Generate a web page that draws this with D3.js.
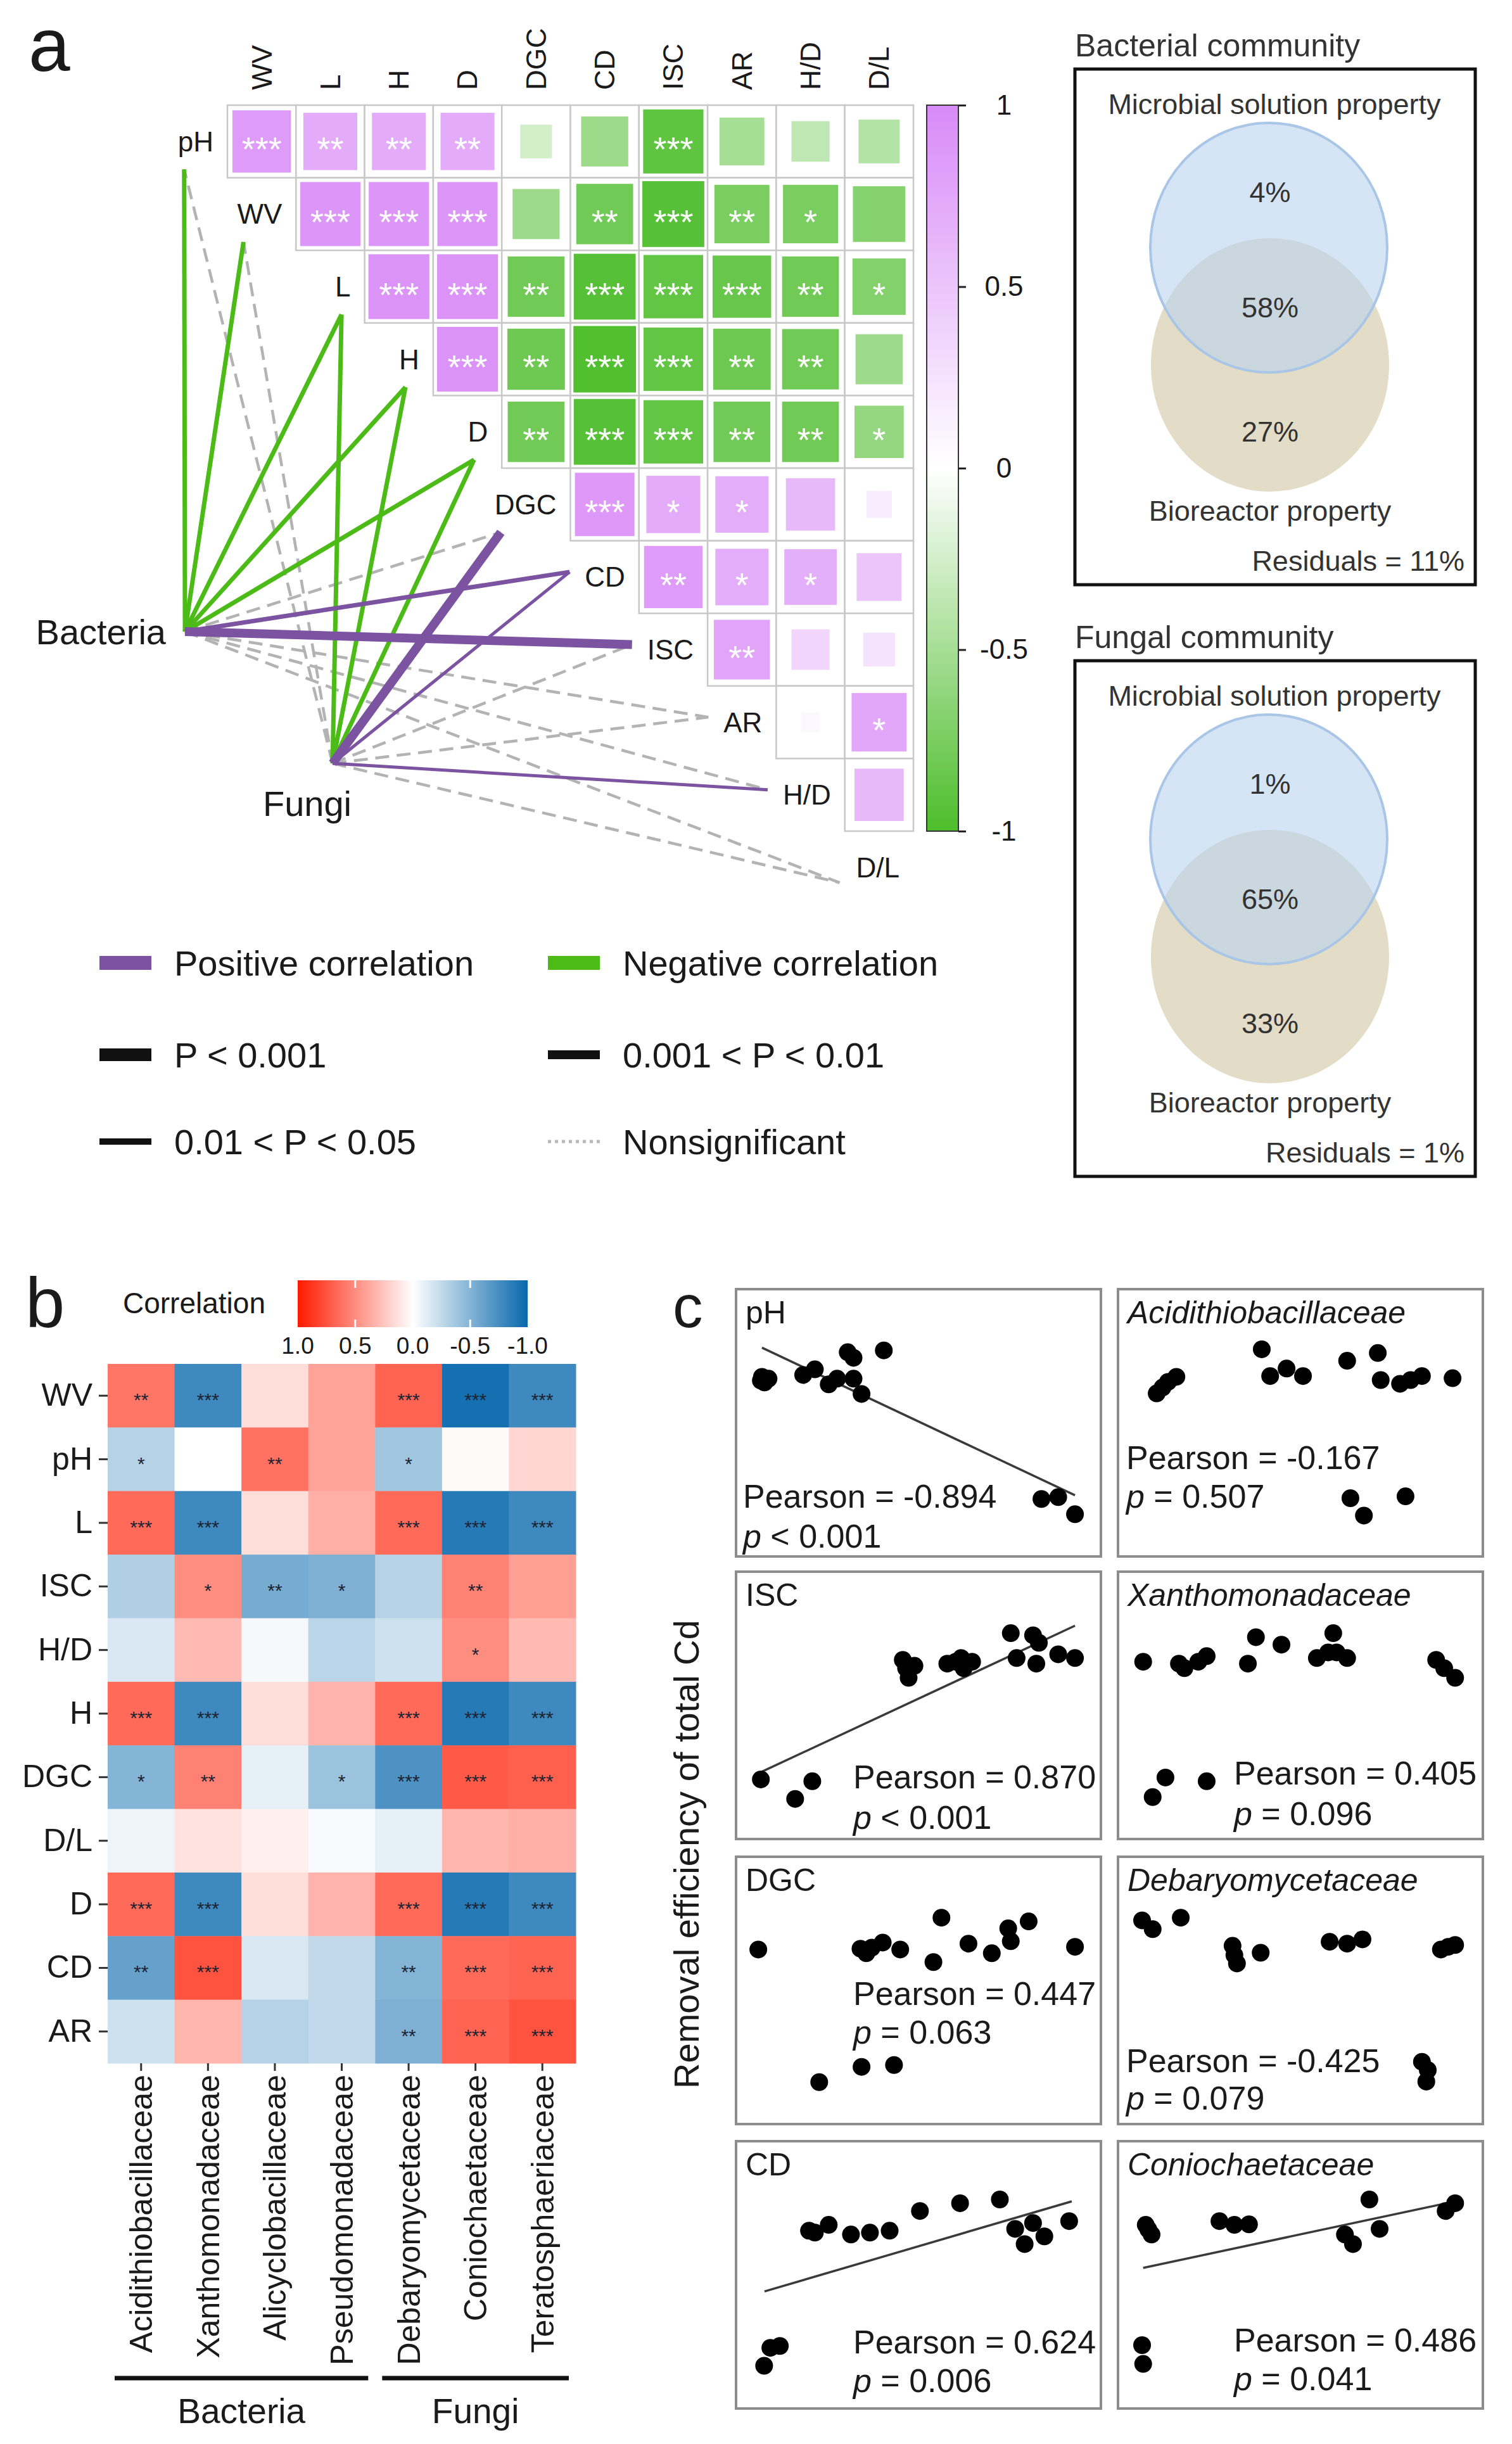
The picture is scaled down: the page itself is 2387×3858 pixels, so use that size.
<!DOCTYPE html>
<html>
<head>
<meta charset="utf-8">
<script src="https://cdn.jsdelivr.net/npm/d3@7"></script>
<style>
  body { margin: 0; background: #fff; }
  svg text { font-family: "Liberation Sans", Arial, sans-serif; fill: #1a1a1a; }
</style>
</head>
<body>
<svg id="fig" width="2387" height="3858"></svg>
<script>
// ---------------- panel a data ----------------
const envVars = ['pH', 'WV', 'L', 'H', 'D', 'DGC', 'CD', 'ISC', 'AR', 'H/D', 'D/L'];
// upper triangle: row k holds r(envVars[k], envVars[j]) for j = k+1..10
const envCorr = [
  [0.85, 0.72, 0.72, 0.72, -0.25, -0.55, -0.9, -0.5, -0.36, -0.42],
  [0.9, 0.9, 0.9, -0.55, -0.8, -0.95, -0.75, -0.75, -0.68],
  [0.92, 0.92, -0.8, -0.95, -0.88, -0.85, -0.8, -0.7],
  [0.92, -0.82, -0.97, -0.88, -0.82, -0.8, -0.55],
  [-0.8, -0.95, -0.88, -0.8, -0.8, -0.6],
  [0.88, 0.72, 0.7, 0.6, 0.16],
  [0.85, 0.7, 0.68, 0.5],
  [0.78, 0.36, 0.25],
  [0.08, 0.75],
  [0.6]
];
const envStars = [
  ['***', '**', '**', '**', '', '', '***', '', '', ''],
  ['***', '***', '***', '', '**', '***', '**', '*', ''],
  ['***', '***', '**', '***', '***', '***', '**', '*'],
  ['***', '**', '***', '***', '**', '**', ''],
  ['**', '***', '***', '**', '**', '*'],
  ['***', '*', '*', '', ''],
  ['**', '*', '*', ''],
  ['**', '', ''],
  ['', '*'],
  ['']
];
const colorTicksA = [1, 0.5, 0, -0.5, -1];

// mantel links, one entry per envVars item
const bacteriaSign = [-1, -1, -1, -1, -1, 1, 1, 1, 1, 1, 1];
const bacteriaP = ['p2', 'p2', 'p2', 'p2', 'p2', 'ns', 'p2', 'p1', 'ns', 'ns', 'ns'];
const fungiSign = [-1, -1, -1, -1, -1, 1, 1, 1, 1, 1, 1];
const fungiP = ['ns', 'ns', 'p2', 'p2', 'p2', 'p1', 'p3', 'ns', 'ns', 'p3', 'ns'];

// variation partitioning
const vennTitles = ['Bacterial community', 'Fungal community'];
const vennSolution = ['4%', '1%'];
const vennShared = ['58%', '65%'];
const vennReactor = ['27%', '33%'];
const vennResiduals = ['11%', '1%'];

// ---------------- panel b data ----------------
const bRows = ['WV', 'pH', 'L', 'ISC', 'H/D', 'H', 'DGC', 'D/L', 'D', 'CD', 'AR'];
const bCols = ['Acidithiobacillaceae', 'Xanthomonadaceae', 'Alicyclobacillaceae', 'Pseudomonadaceae',
               'Debaryomycetaceae', 'Coniochaetaceae', 'Teratosphaeriaceae'];
const bGroups = ['Bacteria', 'Bacteria', 'Bacteria', 'Bacteria', 'Fungi', 'Fungi', 'Fungi'];
const bCorr = [
  [0.6, -0.78, 0.15, 0.4, 0.68, -0.95, -0.78],
  [-0.3, 0.0, 0.62, 0.4, -0.38, 0.02, 0.18],
  [0.65, -0.78, 0.15, 0.35, 0.65, -0.88, -0.78],
  [-0.32, 0.5, -0.55, -0.52, -0.3, 0.55, 0.42],
  [-0.15, 0.3, -0.04, -0.27, -0.2, 0.5, 0.3],
  [0.65, -0.78, 0.15, 0.33, 0.65, -0.88, -0.78],
  [-0.5, 0.55, -0.1, -0.4, -0.72, 0.72, 0.7],
  [-0.07, 0.13, 0.07, -0.03, -0.1, 0.32, 0.35],
  [0.65, -0.78, 0.15, 0.33, 0.65, -0.88, -0.78],
  [-0.62, 0.75, -0.15, -0.25, -0.5, 0.65, 0.68],
  [-0.2, 0.32, -0.3, -0.25, -0.52, 0.68, 0.75]
];
const bStars = [
  ['**', '***', '', '', '***', '***', '***'],
  ['*', '', '**', '', '*', '', ''],
  ['***', '***', '', '', '***', '***', '***'],
  ['', '*', '**', '*', '', '**', ''],
  ['', '', '', '', '', '*', ''],
  ['***', '***', '', '', '***', '***', '***'],
  ['*', '**', '', '*', '***', '***', '***'],
  ['', '', '', '', '', '', ''],
  ['***', '***', '', '', '***', '***', '***'],
  ['**', '***', '', '', '**', '***', '***'],
  ['', '', '', '', '**', '***', '***']
];
const colorTicksB = [1, 0.5, 0, -0.5, -1];
const colorTickLabelsB = ['1.0', '0.5', '0.0', '-0.5', '-1.0'];

// ---------------- panel c data ----------------
const cTitles = ['pH', 'Acidithiobacillaceae', 'ISC', 'Xanthomonadaceae',
                 'DGC', 'Debaryomycetaceae', 'CD', 'Coniochaetaceae'];
const cItalic = [false, true, false, true, false, true, false, true];
const cPearson = ['-0.894', '-0.167', '0.870', '0.405', '0.447', '-0.425', '0.624', '0.486'];
const cPval = ['< 0.001', '= 0.507', '< 0.001', '= 0.096', '= 0.063', '= 0.079', '= 0.006', '= 0.041'];
// scatter values, scaled 0-100 on both axes
const cX = [
  [7.1, 7.8, 8.9, 6.8, 18.4, 21.6, 25.4, 27.7, 30.6, 32.2, 32.2, 34.4, 40.5, 83.7, 88.3, 92.9],
  [10.6, 12.2, 13.7, 16.0, 39.4, 41.7, 46.2, 50.7, 62.8, 71.2, 72.0, 77.3, 80.2, 83.3, 91.7, 63.7, 67.4, 78.8],
  [6.8, 16.2, 20.9, 45.7, 46.6, 47.3, 48.9, 57.9, 60.2, 61.7, 62.4, 64.7, 75.3, 76.9, 81.4, 83.0, 82.3, 88.3, 92.9],
  [6.9, 16.7, 18.2, 22.0, 24.3, 35.6, 37.8, 44.8, 54.5, 57.6, 59.0, 59.9, 62.8, 87.2, 89.4, 92.4, 9.5, 13.0, 24.3],
  [6.1, 34.1, 35.7, 37.2, 40.2, 45.0, 54.1, 56.3, 63.7, 70.1, 74.6, 75.3, 80.2, 92.9, 22.8, 34.4, 43.3],
  [6.6, 9.5, 17.2, 31.4, 31.9, 32.6, 39.1, 58.0, 62.8, 67.0, 88.5, 90.5, 92.4, 83.3, 84.9, 84.5],
  [20.0, 21.6, 25.4, 31.5, 36.7, 42.1, 50.4, 61.4, 72.3, 76.5, 79.1, 81.4, 84.5, 91.3, 7.7, 9.4, 12.0],
  [7.6, 8.3, 9.2, 27.8, 31.9, 35.9, 68.9, 62.2, 64.4, 71.7, 89.8, 92.4, 6.6, 6.9]
];
const cY = [
  [67.2, 65.1, 66.5, 65.8, 67.9, 70.0, 64.4, 66.5, 76.4, 74.3, 66.5, 60.8, 77.1, 21.5, 22.2, 15.8],
  [61.0, 63.2, 65.3, 67.2, 77.5, 67.5, 70.3, 67.5, 73.2, 76.1, 66.0, 64.6, 66.0, 67.5, 66.7, 21.8, 15.3, 22.5],
  [22.3, 15.0, 21.6, 67.0, 63.9, 60.3, 64.8, 65.6, 66.3, 67.7, 63.9, 66.3, 77.0, 67.7, 76.2, 73.4, 65.6, 69.1, 67.7],
  [66.3, 65.6, 63.9, 66.3, 68.4, 65.6, 75.5, 72.7, 67.7, 69.8, 77.0, 69.8, 67.7, 67.0, 63.9, 60.3, 15.7, 23.0, 21.6],
  [65.3, 65.6, 63.9, 66.0, 67.9, 65.3, 60.6, 77.2, 67.5, 63.9, 73.2, 68.4, 75.8, 66.3, 15.7, 21.4, 22.1],
  [76.2, 72.9, 77.2, 66.7, 63.2, 60.1, 64.1, 68.2, 67.5, 69.1, 65.3, 66.3, 67.0, 23.3, 20.2, 15.9],
  [66.5, 65.8, 68.7, 65.1, 65.8, 66.5, 73.9, 76.8, 78.2, 67.2, 61.5, 69.4, 64.4, 70.1, 16.0, 22.7, 23.4],
  [68.7, 67.0, 65.1, 70.1, 68.7, 68.9, 78.2, 65.1, 61.5, 67.2, 73.9, 76.8, 23.7, 16.7]
];
// fitted lines (start and end), null where no line is drawn
const cFit = [
  [[7.1, 78.1], [92.9, 22.9]], null,
  [[7.1, 25.2], [92.9, 79.8]], null,
  null, null,
  [[7.8, 43.8], [92.0, 77.5]],
  [[6.9, 52.6], [92.4, 77.5]]
];

const svg = d3.select('#fig');
const defs = svg.append('defs');

// ============ panel a ============
const gA = svg.append('g');
gA.append('text').attr('x', 45).attr('y', 112).attr('font-size', 118).text('a');

const colEdge = d3.scaleLinear().domain([0, 10]).range([359, 1442]);
const rowEdge = d3.scaleLinear().domain([0, 10]).range([166, 1312]);
const cw = colEdge(1) - colEdge(0);
const ch = rowEdge(1) - rowEdge(0);
const colorA = d3.scaleLinear().domain([-1, 0, 1]).range(['#4dbd2b', '#ffffff', '#d88af7']);

const cellsA = envCorr.flatMap((row, k) => row.map((r, i) => ({ k, j: k + i, r, stars: envStars[k][i] })));

gA.selectAll('rect.frame').data(cellsA).join('rect').attr('class', 'frame')
  .attr('x', d => colEdge(d.j)).attr('y', d => rowEdge(d.k))
  .attr('width', cw).attr('height', ch)
  .attr('fill', '#fff').attr('stroke', '#c8c8c8').attr('stroke-width', 2.5);

gA.selectAll('rect.sq').data(cellsA).join('rect').attr('class', 'sq')
  .each(function (d) {
    const s = Math.sqrt(Math.abs(d.r));
    const w = (cw - 8) * s, h = (ch - 8) * s;
    d3.select(this)
      .attr('x', colEdge(d.j + 0.5) - w / 2).attr('y', rowEdge(d.k + 0.5) - h / 2)
      .attr('width', w).attr('height', h);
  })
  .attr('fill', d => colorA(d.r));

gA.selectAll('text.star').data(cellsA.filter(d => d.stars)).join('text').attr('class', 'star')
  .attr('x', d => colEdge(d.j + 0.5)).attr('y', d => rowEdge(d.k + 0.5) + 31)
  .attr('text-anchor', 'middle').attr('font-size', 54)
  .style('fill', '#fff').text(d => d.stars);

// column labels
gA.selectAll('text.collab').data(envVars.slice(1)).join('text').attr('class', 'collab')
  .attr('transform', (d, j) => `translate(${colEdge(j + 0.5)},142) rotate(-90)`)
  .attr('dy', '0.35em').attr('font-size', 44).text(d => d);

// colour bar
const gradA = defs.append('linearGradient').attr('id', 'gradA')
  .attr('x1', 0).attr('y1', 0).attr('x2', 0).attr('y2', 1);
d3.range(0, 1.0001, 0.05).forEach(t =>
  gradA.append('stop').attr('offset', t).attr('stop-color', colorA(1 - 2 * t)));
const cbA = d3.scaleLinear().domain([-1, 1]).range([1312, 166]);
gA.append('rect').attr('x', 1463).attr('y', cbA(1))
  .attr('width', 50).attr('height', cbA(-1) - cbA(1))
  .attr('fill', 'url(#gradA)').attr('stroke', '#333').attr('stroke-width', 2);
const axA = gA.append('g').attr('transform', 'translate(1513,0)')
  .call(d3.axisRight(cbA).tickValues(colorTicksA).tickSize(12).tickFormat(d => String(d)));
axA.select('.domain').remove();
axA.selectAll('line').attr('stroke', '#222').attr('stroke-width', 3);
axA.selectAll('text').attr('x', 72).attr('text-anchor', 'middle')
  .attr('font-size', 44).attr('font-family', '"Liberation Sans", Arial, sans-serif');

// row labels and link end points
const rowLabels = gA.selectAll('text.rowlab').data(envVars).join('text').attr('class', 'rowlab')
  .attr('x', (d, k) => colEdge(k) - 22).attr('y', (d, k) => rowEdge(k + 0.5))
  .attr('dy', '0.35em').attr('text-anchor', 'end').attr('font-size', 44).text(d => d);

const ends = [];
rowLabels.each(function (d, k) {
  const bb = this.getBBox();
  const cy = rowEdge(k + 0.5);
  if (k <= 5) ends.push([bb.x + 10, cy + 44]);
  else if (k < 10) ends.push([bb.x - 24, cy - 8]);
  else ends.push([bb.x - 26, cy + 24]);
});

const nodePos = { Bacteria: [292, 997], Fungi: [525, 1205] };
const links = [];
envVars.forEach((v, k) => {
  links.push({ from: 'Bacteria', k, sign: bacteriaSign[k], p: bacteriaP[k] });
  links.push({ from: 'Fungi', k, sign: fungiSign[k], p: fungiP[k] });
});
const lineW = { p1: 14, p2: 7, p3: 5, ns: 4.5 };
const order = l => l.p === 'ns' ? 0 : (l.sign < 0 ? 1 : 2);
links.sort((a, b) => order(a) - order(b));

const gLinks = gA.insert('g', 'rect');
gLinks.selectAll('line').data(links).join('line')
  .attr('x1', d => nodePos[d.from][0]).attr('y1', d => nodePos[d.from][1])
  .attr('x2', d => ends[d.k][0]).attr('y2', d => ends[d.k][1])
  .attr('stroke', d => d.p === 'ns' ? '#b3b3b3' : (d.sign > 0 ? '#7b53a0' : '#4cbb17'))
  .attr('stroke-width', d => lineW[d.p])
  .attr('stroke-dasharray', d => d.p === 'ns' ? '22 12' : null);

gA.append('text').attr('x', 262).attr('y', nodePos.Bacteria[1]).attr('dy', '0.35em')
  .attr('text-anchor', 'end').attr('font-size', 56).text('Bacteria');
gA.append('text').attr('x', 485).attr('y', 1288)
  .attr('text-anchor', 'middle').attr('font-size', 56).text('Fungi');

// legend
const legRows = [1520, 1665, 1802];
const legItems = [
  { col: 0, row: 0, label: 'Positive correlation', kind: 'rect', color: '#7b53a0' },
  { col: 1, row: 0, label: 'Negative correlation', kind: 'rect', color: '#4cbb17' },
  { col: 0, row: 1, label: 'P < 0.001', kind: 'line', w: 20 },
  { col: 1, row: 1, label: '0.001 < P < 0.01', kind: 'line', w: 14 },
  { col: 0, row: 2, label: '0.01 < P < 0.05', kind: 'line', w: 10 },
  { col: 1, row: 2, label: 'Nonsignificant', kind: 'dash', w: 5 }
];
const legX = [157, 865];
legItems.forEach(it => {
  const x = legX[it.col], y = legRows[it.row];
  if (it.kind === 'rect') {
    gA.append('rect').attr('x', x).attr('y', y - 11).attr('width', 82).attr('height', 22).attr('fill', it.color);
  } else {
    gA.append('line').attr('x1', x).attr('x2', x + 82).attr('y1', y).attr('y2', y)
      .attr('stroke', it.kind === 'dash' ? '#b8b8b8' : '#111')
      .attr('stroke-width', it.w)
      .attr('stroke-dasharray', it.kind === 'dash' ? '5 6' : null);
  }
  gA.append('text').attr('x', x + 118).attr('y', y).attr('dy', '0.35em')
    .attr('font-size', 56).text(it.label);
});

// venn diagrams
const vennTop = [109, 1043];
vennTitles.forEach((title, i) => {
  const top = vennTop[i];
  const g = svg.append('g');
  g.append('text').attr('x', 1697).attr('y', top - 38).attr('dy', '0.35em')
    .attr('font-size', 50).style('fill', '#333').text(title);
  g.append('rect').attr('x', 1697).attr('y', top).attr('width', 632).attr('height', 814)
    .attr('fill', 'none').attr('stroke', '#111').attr('stroke-width', 5);
  g.append('text').attr('x', 2012).attr('y', top + 55).attr('dy', '0.35em')
    .attr('text-anchor', 'middle').attr('font-size', 45).style('fill', '#333')
    .text('Microbial solution property');
  g.append('ellipse').attr('cx', 2005).attr('cy', top + 467).attr('rx', 188).attr('ry', 200)
    .attr('fill', '#e3dcc6');
  g.append('ellipse').attr('cx', 2003).attr('cy', top + 282).attr('rx', 187).attr('ry', 197)
    .attr('fill', 'rgba(186,212,240,0.6)').attr('stroke', '#a9c6e6').attr('stroke-width', 4);
  [[vennSolution[i], 194], [vennShared[i], 376], [vennReactor[i], 572]].forEach(([t, dy]) =>
    g.append('text').attr('x', 2005).attr('y', top + dy).attr('dy', '0.35em')
      .attr('text-anchor', 'middle').attr('font-size', 45).style('fill', '#333').text(t));
  g.append('text').attr('x', 2005).attr('y', top + 697).attr('dy', '0.35em')
    .attr('text-anchor', 'middle').attr('font-size', 45).style('fill', '#333').text('Bioreactor property');
  g.append('text').attr('x', 2312).attr('y', top + 776).attr('dy', '0.35em')
    .attr('text-anchor', 'end').attr('font-size', 45).style('fill', '#333')
    .text('Residuals = ' + vennResiduals[i]);
});

// ============ panel b ============
const gB = svg.append('g');
gB.append('text').attr('x', 40).attr('y', 2095).attr('font-size', 112).text('b');
const xB = d3.scaleBand().domain(bCols).range([170, 909]);
const yB = d3.scaleBand().domain(bRows).range([2153, 3257]);
const colorB = d3.scaleLinear().domain([-1, 0, 1]).range(['#0868ac', '#ffffff', '#ff1a00']);

const cellsB = bCorr.flatMap((row, i) => row.map((r, j) => ({ row: bRows[i], col: bCols[j], r, stars: bStars[i][j] })));
gB.selectAll('rect.cell').data(cellsB).join('rect').attr('class', 'cell')
  .attr('x', d => xB(d.col)).attr('y', d => yB(d.row))
  .attr('width', xB.bandwidth() + 0.5).attr('height', yB.bandwidth() + 0.5)
  .attr('fill', d => colorB(d.r));
gB.selectAll('text.star').data(cellsB.filter(d => d.stars)).join('text').attr('class', 'star')
  .attr('x', d => xB(d.col) + xB.bandwidth() / 2).attr('y', d => yB(d.row) + yB.bandwidth() / 2 + 17)
  .attr('text-anchor', 'middle').attr('font-size', 30).style('fill', '#1d2433').text(d => d.stars);

const axBL = gB.append('g').attr('transform', 'translate(170,0)')
  .call(d3.axisLeft(yB).tickSize(14).tickPadding(10));
axBL.select('.domain').remove();
axBL.selectAll('line').attr('stroke', '#333').attr('stroke-width', 3);
axBL.selectAll('text').attr('font-size', 50).attr('font-family', '"Liberation Sans", Arial, sans-serif');

const axBB = gB.append('g').attr('transform', 'translate(0,3257)')
  .call(d3.axisBottom(xB).tickSize(12).tickPadding(8));
axBB.select('.domain').remove();
axBB.selectAll('line').attr('stroke', '#333').attr('stroke-width', 3);
axBB.selectAll('text').attr('font-size', 50).attr('font-family', '"Liberation Sans", Arial, sans-serif')
  .attr('transform', 'rotate(-90)').attr('text-anchor', 'end')
  .attr('x', -18).attr('y', 0).attr('dy', '0.35em');

// group bars under the columns
const groupNames = Array.from(new Set(bGroups));
groupNames.forEach(name => {
  const cols = bCols.filter((c, j) => bGroups[j] === name);
  const x0 = xB(cols[0]) + 11;
  const x1 = xB(cols[cols.length - 1]) + xB.bandwidth() - 11;
  gB.append('line').attr('x1', x0).attr('x2', x1).attr('y1', 3754).attr('y2', 3754)
    .attr('stroke', '#111').attr('stroke-width', 7);
  gB.append('text').attr('x', (x0 + x1) / 2).attr('y', 3806).attr('dy', '0.35em')
    .attr('text-anchor', 'middle').attr('font-size', 55).text(name);
});

// colour legend
gB.append('text').attr('x', 194).attr('y', 2057).attr('dy', '0.35em')
  .attr('font-size', 46).text('Correlation');
const cbB = d3.scaleLinear().domain([1, -1]).range([470, 833]);
const gradB = defs.append('linearGradient').attr('id', 'gradB');
d3.range(0, 1.0001, 0.05).forEach(t =>
  gradB.append('stop').attr('offset', t).attr('stop-color', colorB(1 - 2 * t)));
gB.append('rect').attr('x', cbB(1)).attr('y', 2021).attr('width', cbB(-1) - cbB(1)).attr('height', 74)
  .attr('fill', 'url(#gradB)');
colorTicksB.slice(1, 4).forEach(v => {
  gB.append('line').attr('x1', cbB(v)).attr('x2', cbB(v)).attr('y1', 2021).attr('y2', 2033)
    .attr('stroke', '#fff').attr('stroke-width', 3);
  gB.append('line').attr('x1', cbB(v)).attr('x2', cbB(v)).attr('y1', 2083).attr('y2', 2095)
    .attr('stroke', '#fff').attr('stroke-width', 3);
});
colorTicksB.forEach((v, i) =>
  gB.append('text').attr('x', cbB(v)).attr('y', 2124).attr('dy', '0.35em')
    .attr('text-anchor', 'middle').attr('font-size', 37).text(colorTickLabelsB[i]));

// ============ panel c ============
const gC = svg.append('g');
gC.append('text').attr('x', 1062).attr('y', 2095).attr('font-size', 95).text('c');
gC.append('text').attr('transform', 'translate(1083,2927) rotate(-90)')
  .attr('dy', '0.35em').attr('text-anchor', 'middle').attr('font-size', 56)
  .text('Removal efficiency of total Cd');

const boxLeft = [1162, 1765];
const boxTop = [2035, 2481, 2931, 3380];
const boxW = 576, boxH = 422;
// text placement inside each box: [x offset, Pearson line, p line]
const statPos = [[11, 327, 390], [13, 266, 327], [185, 324, 388], [183, 318, 382],
                 [185, 216, 277], [13, 322, 381], [185, 317, 378], [183, 314, 375]];

cTitles.forEach((title, i) => {
  const bx = boxLeft[i % 2], by = boxTop[Math.floor(i / 2)];
  const g = gC.append('g');
  const x = d3.scaleLinear().domain([0, 100]).range([bx, bx + boxW]);
  const y = d3.scaleLinear().domain([0, 100]).range([by + boxH, by]);

  g.append('rect').attr('x', bx).attr('y', by).attr('width', boxW).attr('height', boxH)
    .attr('fill', '#fff').attr('stroke', '#8c8c8c').attr('stroke-width', 4);
  g.append('text').attr('x', bx + 15).attr('y', by + 36).attr('dy', '0.35em')
    .attr('font-size', 50).attr('font-style', cItalic[i] ? 'italic' : 'normal').text(title);

  if (cFit[i]) {
    g.append('line')
      .attr('x1', x(cFit[i][0][0])).attr('y1', y(cFit[i][0][1]))
      .attr('x2', x(cFit[i][1][0])).attr('y2', y(cFit[i][1][1]))
      .attr('stroke', '#3a3a3a').attr('stroke-width', 3.5);
  }
  const pts = cX[i].map((v, k) => [v, cY[i][k]]);
  g.selectAll('circle').data(pts).join('circle')
    .attr('cx', d => x(d[0])).attr('cy', d => y(d[1])).attr('r', 14).attr('fill', '#000');

  const sp = statPos[i];
  g.append('text').attr('x', bx + sp[0]).attr('y', by + sp[1]).attr('dy', '0.35em')
    .attr('font-size', 52).text('Pearson = ' + cPearson[i]);
  const pt = g.append('text').attr('x', bx + sp[0]).attr('y', by + sp[2]).attr('dy', '0.35em')
    .attr('font-size', 52);
  pt.append('tspan').attr('font-style', 'italic').text('p');
  pt.append('tspan').text(' ' + cPval[i]);
});
</script>
</body>
</html>
